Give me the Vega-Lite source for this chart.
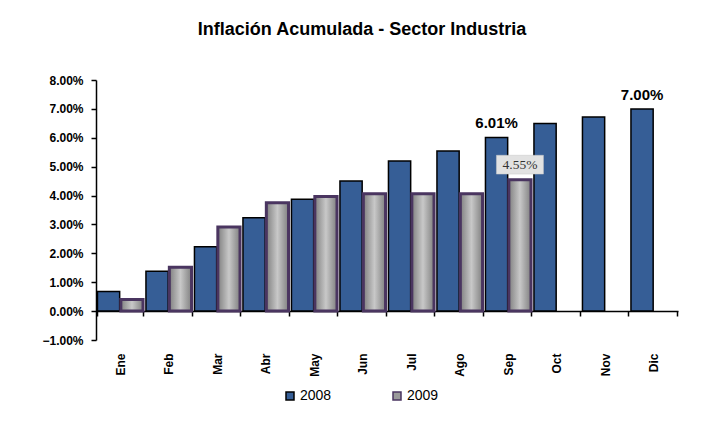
{
  "$schema": "https://vega.github.io/schema/vega-lite/v6.json",
  "width": 582,
  "height": 260,
  "autosize": {"type": "none"},
  "padding": {"left": 96, "top": 80, "right": 41, "bottom": 97},
  "background": "white",
  "title": {
    "text": "Inflación Acumulada - Sector Industria",
    "font": "Liberation Sans",
    "fontSize": 18,
    "fontWeight": "bold",
    "color": "#000000",
    "anchor": "middle",
    "dx": -25,
    "offset": 35
  },
  "config": {"view": {"stroke": null}},
  "data": {
    "values": [
      {"mes": "Ene", "anio": "2008", "valor": 0.68},
      {"mes": "Feb", "anio": "2008", "valor": 1.38},
      {"mes": "Mar", "anio": "2008", "valor": 2.23},
      {"mes": "Abr", "anio": "2008", "valor": 3.23},
      {"mes": "May", "anio": "2008", "valor": 3.87},
      {"mes": "Jun", "anio": "2008", "valor": 4.5},
      {"mes": "Jul", "anio": "2008", "valor": 5.2},
      {"mes": "Ago", "anio": "2008", "valor": 5.54},
      {"mes": "Sep", "anio": "2008", "valor": 6.01, "etiqueta": "6.01%"},
      {"mes": "Oct", "anio": "2008", "valor": 6.49},
      {"mes": "Nov", "anio": "2008", "valor": 6.72},
      {"mes": "Dic", "anio": "2008", "valor": 7.0, "etiqueta": "7.00%"},
      {"mes": "Ene", "anio": "2009", "valor": 0.4},
      {"mes": "Feb", "anio": "2009", "valor": 1.52},
      {"mes": "Mar", "anio": "2009", "valor": 2.91},
      {"mes": "Abr", "anio": "2009", "valor": 3.75},
      {"mes": "May", "anio": "2009", "valor": 3.97},
      {"mes": "Jun", "anio": "2009", "valor": 4.06},
      {"mes": "Jul", "anio": "2009", "valor": 4.06},
      {"mes": "Ago", "anio": "2009", "valor": 4.06},
      {"mes": "Sep", "anio": "2009", "valor": 4.55, "etiqueta": "4.55%"}
    ]
  },
  "encoding": {
    "x": {
      "field": "mes",
      "type": "nominal",
      "sort": ["Ene", "Feb", "Mar", "Abr", "May", "Jun", "Jul", "Ago", "Sep", "Oct", "Nov", "Dic"],
      "scale": {"paddingInner": 0.06, "paddingOuter": 0.03},
      "axis": {
        "title": null,
        "offset": -29,
        "labelAngle": -90,
        "labelFont": "Liberation Sans",
        "labelFontSize": 12,
        "labelFontWeight": "bold",
        "labelColor": "#000000",
        "labelPadding": 37,
        "tickBand": "extent",
        "tickSize": 5,
        "tickColor": "#000000",
        "tickWidth": 1.5,
        "domainColor": "#000000",
        "domainWidth": 1.5,
        "grid": false
      }
    },
    "xOffset": {
      "field": "anio",
      "type": "nominal",
      "sort": ["2008", "2009"],
      "scale": {"paddingInner": 0.05}
    },
    "y": {
      "field": "valor",
      "type": "quantitative",
      "scale": {"domain": [-1, 8], "nice": false},
      "axis": {
        "title": null,
        "values": [-1, 0, 1, 2, 3, 4, 5, 6, 7, 8],
        "labelExpr": "format(datum.value, '.2f') + '%'",
        "labelFont": "Liberation Sans",
        "labelFontSize": 12,
        "labelFontWeight": "bold",
        "labelColor": "#000000",
        "labelPadding": 8,
        "tickSize": 5,
        "tickColor": "#000000",
        "tickWidth": 1.5,
        "domainColor": "#000000",
        "domainWidth": 1.5,
        "grid": false
      }
    }
  },
  "layer": [
    {
      "mark": {"type": "bar", "strokeWidth": 1.5},
      "encoding": {
        "color": {
          "field": "anio",
          "type": "nominal",
          "scale": {"domain": ["2008", "2009"], "range": ["#365E96", "#9a9a9a"]},
          "legend": {
            "title": null,
            "orient": "none",
            "legendX": 187,
            "legendY": 309,
            "direction": "horizontal",
            "symbolType": "square",
            "symbolSize": 64,
            "symbolStrokeWidth": 1.5,
            "labelFont": "Liberation Sans",
            "labelFontSize": 14,
            "labelColor": "#000000",
            "labelOffset": 3,
            "columnPadding": 58,
            "padding": 0
          }
        },
        "stroke": {
          "field": "anio",
          "type": "nominal",
          "scale": {"domain": ["2008", "2009"], "range": ["#000000", "#4a3560"]}
        }
      }
    },
    {
      "transform": [{"filter": "datum.anio == '2009'"}],
      "mark": {
        "type": "bar",
        "stroke": "#4a3560",
        "strokeWidth": 3,
        "fill": {
          "gradient": "linear",
          "x1": 0, "y1": 0, "x2": 1, "y2": 0,
          "stops": [
            {"offset": 0, "color": "#808080"},
            {"offset": 0.5, "color": "#c8c8c8"},
            {"offset": 1, "color": "#808080"}
          ]
        }
      }
    },
    {
      "transform": [{"filter": "datum.anio == '2008' && datum.etiqueta != null"}],
      "mark": {
        "type": "text",
        "font": "Liberation Sans",
        "fontSize": 15,
        "fontWeight": "bold",
        "color": "#000000",
        "baseline": "bottom",
        "dy": -6
      },
      "encoding": {"text": {"field": "etiqueta"}}
    },
    {
      "transform": [{"filter": "datum.anio == '2009' && datum.etiqueta != null"}],
      "mark": {
        "type": "point",
        "shape": "M-1,-0.4H1V0.4H-1Z",
        "size": 2209,
        "filled": true,
        "fill": "#e2e2e2",
        "stroke": "#c8c8c8",
        "strokeWidth": 0.5,
        "opacity": 1,
        "yOffset": -15
      }
    },
    {
      "transform": [{"filter": "datum.anio == '2009' && datum.etiqueta != null"}],
      "mark": {
        "type": "text",
        "font": "Liberation Serif",
        "fontSize": 13.5,
        "color": "#333333",
        "baseline": "middle",
        "yOffset": -15
      },
      "encoding": {"text": {"field": "etiqueta"}}
    }
  ]
}
